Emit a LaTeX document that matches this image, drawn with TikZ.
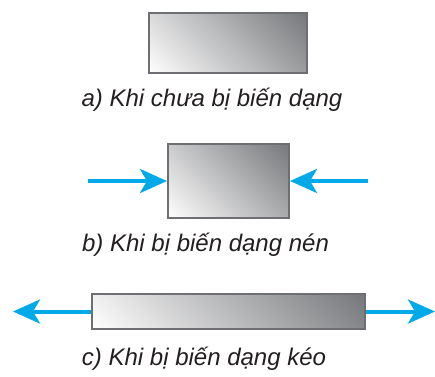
\documentclass[tikz,border=0pt]{standalone}
\usepackage{fontspec}
\setmainfont{Liberation Sans}
\usetikzlibrary{arrows.meta, positioning, shadings}
\definecolor{cBlue}{RGB}{0,170,232}
\definecolor{cEdge}{RGB}{110,111,114}
\definecolor{cDark}{RGB}{118,119,122}
\definecolor{cText}{RGB}{35,31,32}
\tikzset{
	% #1 = half side of the rotated shading square (pt)
	bar/.style    ={rectangle, draw=cEdge, line width=2pt, inner sep=0pt,
	                path picture={
	                	\begin{scope}[transform canvas={rotate around={45:(path picture bounding box.center)}}]
	                		\shade[left color=white, right color=cDark] (path picture bounding box.center)
	                			++(-#1pt,-#1pt) rectangle ++(2*#1pt,2*#1pt);
	                	\end{scope}}},
	force/.style  ={-{Stealth[length=27pt, width=24pt, inset=7pt]}, line width=4pt, draw=cBlue},
	caption/.style={font=\fontsize{24}{27}\selectfont\itshape, text=cText, inner sep=0pt, anchor=base},
}
\begin{document}
\begin{tikzpicture}[x=1pt, y=-1pt]
	\useasboundingbox (0,0) rectangle (435,376);
	% a) no deformation
	\node[bar=77.5, minimum width=158pt, minimum height=60pt] (barA) at (228,43) {};
	\node[caption] (capA) at (212,106.7) {a) Khi chưa bị biến dạng};
	% b) compression
	\node[bar=69.5, minimum width=121pt, minimum height=74pt] (barB) at (228.5,181) {};
	\coordinate (inL) at (88,181);
	\coordinate (inR) at (368,181);
	\draw[force] (inL) -- (barB.west);
	\draw[force] (inR) -- (barB.east);
	\node[caption] (capB) at (205.5,251.7) {b) Khi bị biến dạng nén};
	% c) tension
	\node[bar=109.5, minimum width=273pt, minimum height=35pt] (barC) at (228.5,311.5) {};
	\coordinate (outL) at (13,311.5);
	\coordinate (outR) at (435,311.5);
	\draw[force] (barC.west) -- (outL);
	\draw[force] (barC.east) -- (outR);
	\node[caption] (capC) at (204,365) {c) Khi bị biến dạng kéo};
\end{tikzpicture}
\end{document}
